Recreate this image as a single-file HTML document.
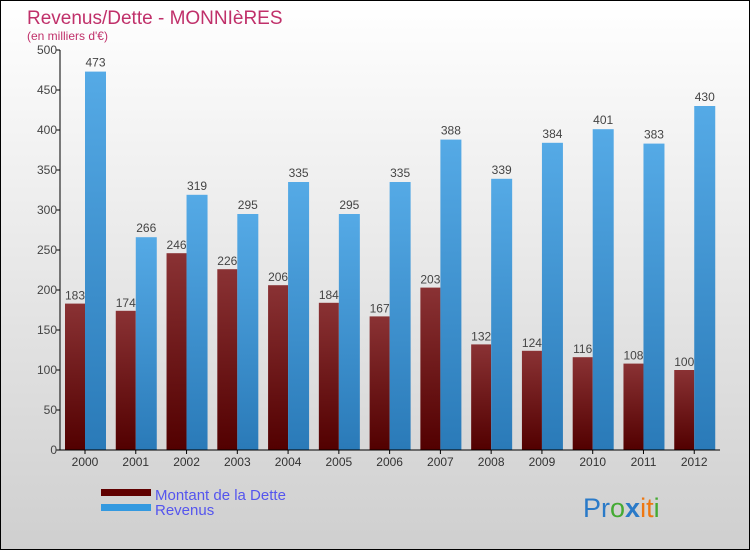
<!DOCTYPE html>
<html><head><meta charset="utf-8"><style>
body{margin:0}
#c{width:748px;height:548px;border:1px solid #000;background:linear-gradient(#ffffff,#cfcfcf);position:relative;font-family:"Liberation Sans",sans-serif;overflow:hidden}
svg text{font-family:"Liberation Sans",sans-serif}
</style></head><body>
<div id="c">
<svg id="s" width="748" height="548" xmlns="http://www.w3.org/2000/svg">
<defs>
<linearGradient id="gd" x1="0" y1="0" x2="0" y2="1"><stop offset="0" stop-color="#8a3234"/><stop offset="1" stop-color="#520000"/></linearGradient>
<linearGradient id="gr" x1="0" y1="0" x2="0" y2="1"><stop offset="0" stop-color="#55aae6"/><stop offset="1" stop-color="#2a7ab8"/></linearGradient>
</defs>
<text x="26" y="23" font-size="19" fill="#c0306a">Revenus/Dette - MONNIèRES</text>
<text x="26" y="39" font-size="12" fill="#c0306a">(en milliers d'€)</text>
<g id="bars"></g>
<g id="axes"></g>
<rect x="100" y="488" width="50" height="7" fill="#600000"/>
<text x="154" y="499" font-size="15" fill="#5555ee">Montant de la Dette</text>
<rect x="100" y="503" width="50" height="7" fill="#3399e0"/>
<text x="154" y="514" font-size="15" fill="#5555ee">Revenus</text>
<text x="582" y="516" font-size="27"><tspan fill="#2a7ac8">Pr</tspan><tspan fill="#44aa33">o</tspan><tspan fill="#2a7ac8" font-weight="bold">x</tspan><tspan fill="#ee7711">i</tspan><tspan fill="#ee7711">t</tspan><tspan fill="#44aa33">i</tspan></text>
</svg>
</div>
<script>
const years=["2000","2001","2002","2003","2004","2005","2006","2007","2008","2009","2010","2011","2012"];
const dette=[183,174,246,226,206,184,167,203,132,124,116,108,100];
const revenus=[473,266,319,295,335,295,335,388,339,384,401,383,430];
const ticks=[0,50,100,150,200,250,300,350,400,450,500];
const NS="http://www.w3.org/2000/svg";
const x0=59,step=50.77,y0=449,ys=0.8;
const Y=v=>y0-v*ys, X=i=>x0+step*i;
function mk(t,a,p){const e=document.createElementNS(NS,t);for(const k in a)e.setAttribute(k,a[k]);p.appendChild(e);return e;}
const bars=document.getElementById('bars'),axes=document.getElementById('axes');
years.forEach((y,i)=>{
 const bx=X(i)+5;
 let r=mk('rect',{x:bx,y:Y(dette[i]),width:20,height:dette[i]*ys,fill:'url(#gd)'},bars);
 
 
 let r2=mk('rect',{x:bx+20,y:Y(revenus[i]),width:21,height:revenus[i]*ys,fill:'url(#gr)'},bars);
 
 
 let t=mk('text',{x:bx+10,y:Y(dette[i])-4,'font-size':12,fill:'#444','text-anchor':'middle'},bars);t.textContent=dette[i];
 
 
 let t2=mk('text',{x:bx+30.5,y:Y(revenus[i])-5,'font-size':12,fill:'#444','text-anchor':'middle'},bars);t2.textContent=revenus[i];
 
 
 let tk=mk('line',{x1:X(i)+25,x2:X(i)+25,y1:y0,y2:y0+4,stroke:'#000'},axes);
 
 
 let xl=mk('text',{x:X(i)+25,y:y0+16,'font-size':12,fill:'#333','text-anchor':'middle'},axes);xl.textContent=y;
 
 
});
ticks.forEach(v=>{
 let l=mk('line',{x1:x0-4,x2:x0,y1:Y(v),y2:Y(v),stroke:'#000'},axes);
 
 
 let t=mk('text',{x:x0-3,y:Y(v)+4,'font-size':12,fill:'#444','text-anchor':'end'},axes);t.textContent=v;
 
 
});
let ya=mk('line',{x1:x0,x2:x0,y1:Y(500),y2:y0,stroke:'#000'},axes);


let xa=mk('line',{x1:x0,x2:x0+step*13,y1:y0,y2:y0,stroke:'#000'},axes);


</script>
</body></html>
